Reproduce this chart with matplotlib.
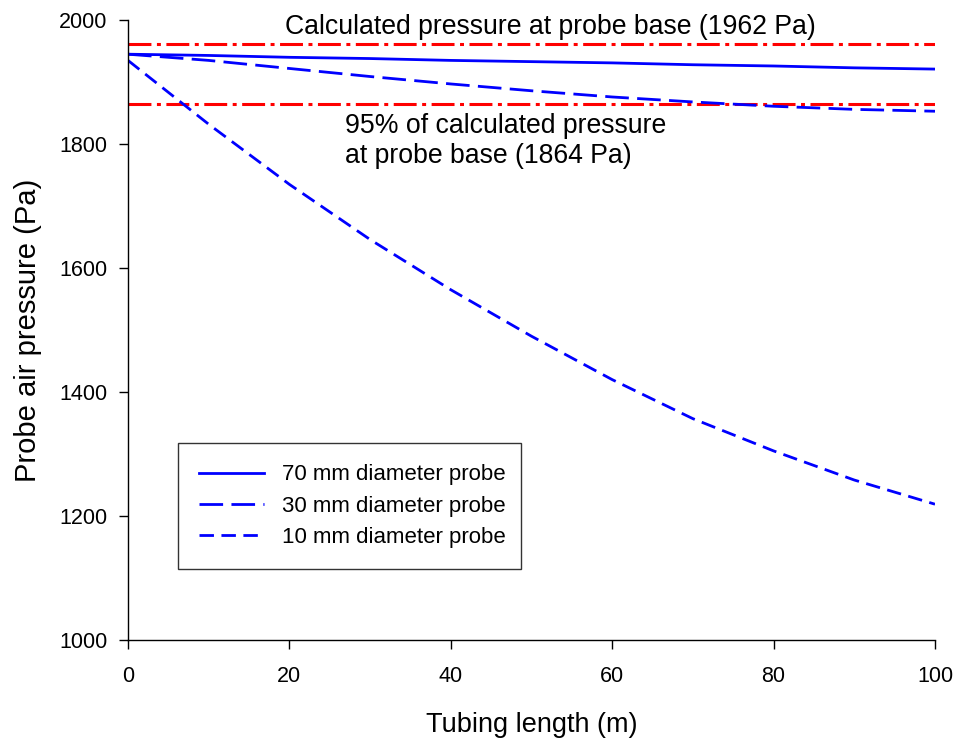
import matplotlib
matplotlib.use("Agg")
import matplotlib.pyplot as plt

plt.rcParams['font.family'] = ['Liberation Sans', 'DejaVu Sans']

# Tubing length (m)
length = [0, 10, 20, 30, 40, 50, 60, 70, 80, 90, 100]

# Probe air pressure (Pa) for each probe diameter
p70 = [1945, 1943, 1940, 1938, 1935, 1933, 1931, 1928, 1926, 1923, 1921]
p30 = [1945, 1935, 1922, 1909, 1897, 1886, 1876, 1868, 1861, 1856, 1853]
p10 = [1935, 1832, 1735, 1646, 1565, 1490, 1420, 1357, 1305, 1258, 1219]

labels = ["70 mm diameter probe", "30 mm diameter probe", "10 mm diameter probe"]

p_base = 1962
p_base95 = 1864

fig = plt.figure(figsize=(9.58, 7.45), dpi=100)
ax = fig.add_axes([0.1336, 0.141, 0.8424, 0.832])

blue = "#0000ff"
red = "#ff0000"

ax.plot([0, 100], [p_base, p_base], color=red, lw=2.2, dashes=(7.5, 1.8, 1.3, 1.8))
ax.plot([0, 100], [p_base95, p_base95], color=red, lw=2.2, dashes=(7.5, 1.8, 1.3, 1.8))

ax.plot(length, p70, color=blue, lw=2.0, label=labels[0])
ax.plot(length, p30, color=blue, lw=2.0, dashes=(8.5, 3.0), label=labels[1])
ax.plot(length, p10, color=blue, lw=2.0, dashes=(5.2, 2.7), label=labels[2])

ax.text(52.4, 1989, "Calculated pressure at probe base (1962 Pa)",
        ha="center", va="center", fontsize=19.2)
ax.text(26.9, 1805, "95% of calculated pressure\nat probe base (1864 Pa)",
        ha="left", va="center", fontsize=19.2, linespacing=1.2)

ax.set_xlim(0, 100)
ax.set_ylim(1000, 2000)
ax.set_xticks([0, 20, 40, 60, 80, 100])
ax.set_yticks([1000, 1200, 1400, 1600, 1800, 2000])
ax.tick_params(direction="out", length=6.5, width=1, labelsize=15.5, pad=8.5)
ax.tick_params(axis="x", pad=12)
for s in ("top", "right"):
    ax.spines[s].set_visible(False)
for s in ("left", "bottom"):
    ax.spines[s].set_linewidth(1)

ax.set_xlabel("Tubing length (m)", fontsize=19.5, labelpad=18)
ax.set_ylabel("Probe air pressure (Pa)", fontsize=21, labelpad=12)

leg = ax.legend(loc="lower left", bbox_to_anchor=(0.062, 0.1145, 0.425, 0.2),
                mode="expand", fontsize=16, frameon=True, fancybox=False,
                edgecolor="black", handlelength=2.9, handletextpad=0.85,
                borderpad=0.95, labelspacing=0.46, borderaxespad=0)
leg.get_frame().set_linewidth(1)

fig.savefig("out.png", dpi=100)
